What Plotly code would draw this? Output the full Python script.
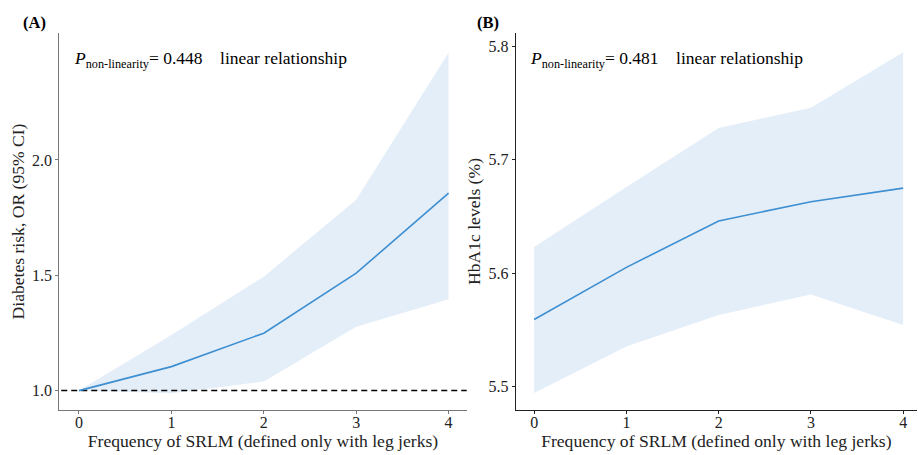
import plotly.graph_objects as go

freq = [0, 1, 2, 3, 4]

# Panel A: Diabetes risk OR (95% CI)
or_est = [1.0, 1.104, 1.249, 1.509, 1.856]
or_upper = [1.0, 1.241, 1.494, 1.827, 2.465]
or_lower = [1.0, 0.989, 1.039, 1.277, 1.396]

# Panel B: HbA1c levels (%)
hba_est = [5.559, 5.605, 5.646, 5.663, 5.675]
hba_upper = [5.623, 5.676, 5.728, 5.746, 5.795]
hba_lower = [5.494, 5.535, 5.563, 5.581, 5.554]

a_yticks = [1.0, 1.5, 2.0]
b_yticks = [5.5, 5.6, 5.7, 5.8]
x_ticks = [0, 1, 2, 3, 4]

LINE = "#3d8fd1"
FILL = "#e4eef8"
FONT = "Liberation Serif"

fig = go.Figure()

# Panel A
fig.add_trace(go.Scatter(x=freq, y=or_lower, mode="lines", line=dict(width=0),
                         showlegend=False, hoverinfo="skip", xaxis="x", yaxis="y"))
fig.add_trace(go.Scatter(x=freq, y=or_upper, mode="lines", line=dict(width=0),
                         fill="tonexty", fillcolor=FILL, showlegend=False,
                         hoverinfo="skip", xaxis="x", yaxis="y"))
fig.add_trace(go.Scatter(x=[-0.3, 4.3], y=[1.0, 1.0], mode="lines",
                         line=dict(color="black", width=1.5, dash="6px,4px"),
                         showlegend=False, xaxis="x", yaxis="y"))
fig.add_trace(go.Scatter(x=freq, y=or_est, mode="lines", line=dict(color=LINE, width=1.6),
                         showlegend=False, xaxis="x", yaxis="y"))

# Panel B
fig.add_trace(go.Scatter(x=freq, y=hba_lower, mode="lines", line=dict(width=0),
                         showlegend=False, hoverinfo="skip", xaxis="x2", yaxis="y2"))
fig.add_trace(go.Scatter(x=freq, y=hba_upper, mode="lines", line=dict(width=0),
                         fill="tonexty", fillcolor=FILL, showlegend=False,
                         hoverinfo="skip", xaxis="x2", yaxis="y2"))
fig.add_trace(go.Scatter(x=freq, y=hba_est, mode="lines", line=dict(color=LINE, width=1.6),
                         showlegend=False, xaxis="x2", yaxis="y2"))

ydom = [45 / 455, 422 / 455]
common_x = dict(tickmode="array", tickvals=x_ticks, ticks="outside", ticklen=3,
                ticklabelstandoff=-5,
                showgrid=False, zeroline=False, showline=True,
                tickfont=dict(family=FONT, size=16, color="#222"),
                title=dict(text="Frequency of SRLM (defined only with leg jerks)",
                           font=dict(family=FONT, size=17.6, color="#222"), standoff=2))

fig.update_layout(
    width=918, height=455,
    margin=dict(l=0, r=0, t=0, b=0),
    paper_bgcolor="white", plot_bgcolor="white",
    xaxis=dict(domain=[59.3 / 918, 466.7 / 918], range=[-0.213, 4.196], anchor="y",
               linecolor="#777", tickcolor="#777", **common_x),
    yaxis=dict(domain=ydom, range=[0.916, 2.55], anchor="x",
               tickmode="array", tickvals=a_yticks, ticktext=["1.0", "1.5", "2.0"],
               ticks="outside", ticklen=3, tickcolor="#777",
               showgrid=False, zeroline=False, showline=True, linecolor="#777",
               tickfont=dict(family=FONT, size=16, color="#222"),
               title=dict(text="Diabetes risk, OR (95% CI)",
                          font=dict(family=FONT, size=17.6, color="#222"), standoff=2)),
    xaxis2=dict(domain=[515.7 / 918, 917 / 918], range=[-0.2, 4.15], anchor="y2",
                linecolor="#222", tickcolor="#222", **common_x),
    yaxis2=dict(domain=ydom, range=[5.479, 5.812], anchor="x2",
                tickmode="array", tickvals=b_yticks, ticktext=["5.5", "5.6", "5.7", "5.8"],
                ticks="outside", ticklen=3, tickcolor="#222",
                showgrid=False, zeroline=False, showline=True, linecolor="#222",
                tickfont=dict(family=FONT, size=16, color="#222"),
                title=dict(text="HbA1c levels (%)",
                           font=dict(family=FONT, size=17.6, color="#222"), standoff=3)),
    annotations=[
        dict(text="<b>(A)</b>", x=21 / 918, y=1 - 22 / 455, xref="paper", yref="paper",
             xanchor="left", yanchor="middle", showarrow=False,
             font=dict(family=FONT, size=16.5, color="black")),
        dict(text="<b>(B)</b>", x=475 / 918, y=1 - 22 / 455, xref="paper", yref="paper",
             xanchor="left", yanchor="middle", showarrow=False,
             font=dict(family=FONT, size=16.5, color="black")),
        dict(text="<i>P</i><sub>non-linearity</sub>= 0.448&nbsp;&nbsp;&nbsp;&nbsp;linear relationship",
             x=72 / 918, y=1 - 60 / 455, xref="paper", yref="paper",
             xanchor="left", yanchor="middle", showarrow=False,
             font=dict(family=FONT, size=17.5, color="black")),
        dict(text="<i>P</i><sub>non-linearity</sub>= 0.481&nbsp;&nbsp;&nbsp;&nbsp;linear relationship",
             x=528 / 918, y=1 - 60 / 455, xref="paper", yref="paper",
             xanchor="left", yanchor="middle", showarrow=False,
             font=dict(family=FONT, size=17.5, color="black")),
    ],
)

fig.write_html("out.html", config={"displayModeBar": False},
               post_script="document.body.style.margin='0px';")
